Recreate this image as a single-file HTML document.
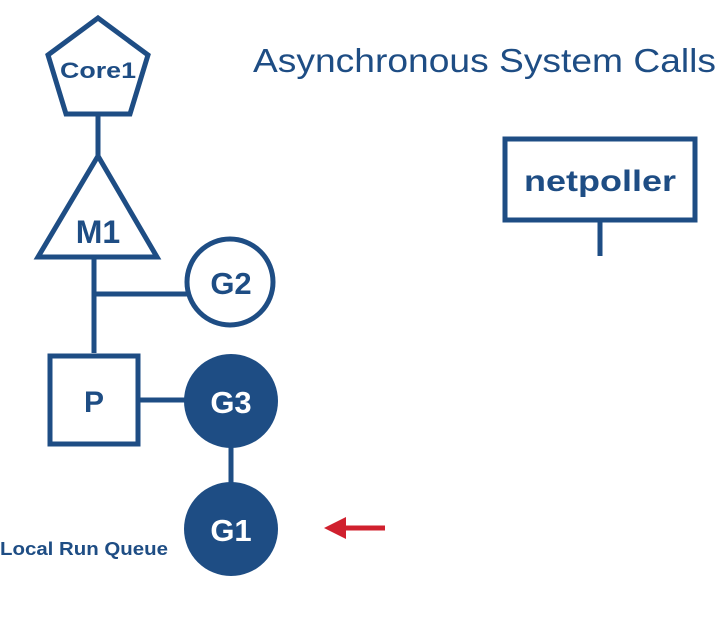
<!DOCTYPE html>
<html><head><meta charset="utf-8"><style>
html,body{margin:0;padding:0;background:#fff;}
svg{display:block;}
text{font-family:"Liberation Sans",Arial,sans-serif;font-weight:bold;fill:#1e4d84;}
</style></head><body>
<svg width="728" height="619" viewBox="0 0 728 619" xmlns="http://www.w3.org/2000/svg">
<g fill="none" stroke="#1e4d84" stroke-width="5">
<polygon points="98,18 148,55 130,114 66,114 48,55"/>
<line x1="98" y1="114" x2="98" y2="156"/>
<polygon points="98,156 157,257 38,257"/>
<line x1="94" y1="257" x2="94" y2="353"/>
<line x1="94" y1="294" x2="187" y2="294"/>
<circle cx="230" cy="282" r="43"/>
<rect x="50" y="356" width="88" height="88"/>
<line x1="138" y1="400" x2="186" y2="400"/>
<line x1="231" y1="446" x2="231" y2="484"/>
<rect x="505" y="139" width="190" height="81"/>
<line x1="600" y1="220" x2="600" y2="256"/>
</g>
<circle cx="231" cy="401" r="47" fill="#1e4d84"/>
<circle cx="231" cy="529" r="47" fill="#1e4d84"/>
<line x1="385" y1="528" x2="345" y2="528" stroke="#d0202e" stroke-width="5"/>
<polygon points="324,528 346,517 346,539" fill="#d0202e"/>
<text x="253" y="72" font-size="33" textLength="463" lengthAdjust="spacingAndGlyphs" style="font-weight:normal">Asynchronous System Calls</text>
<text x="98" y="78" font-size="22" text-anchor="middle" textLength="76" lengthAdjust="spacingAndGlyphs">Core1</text>
<text x="98" y="243" font-size="32" text-anchor="middle">M1</text>
<text x="231" y="294" font-size="31" text-anchor="middle">G2</text>
<text x="94" y="412" font-size="30" text-anchor="middle">P</text>
<text x="231" y="413" font-size="31" text-anchor="middle" style="fill:#fff">G3</text>
<text x="231" y="541" font-size="31" text-anchor="middle" style="fill:#fff">G1</text>
<text x="0" y="555" font-size="18" textLength="168" lengthAdjust="spacingAndGlyphs">Local Run Queue</text>
<text x="600" y="191" font-size="30" text-anchor="middle" textLength="152" lengthAdjust="spacingAndGlyphs">netpoller</text>
</svg>
</body></html>
